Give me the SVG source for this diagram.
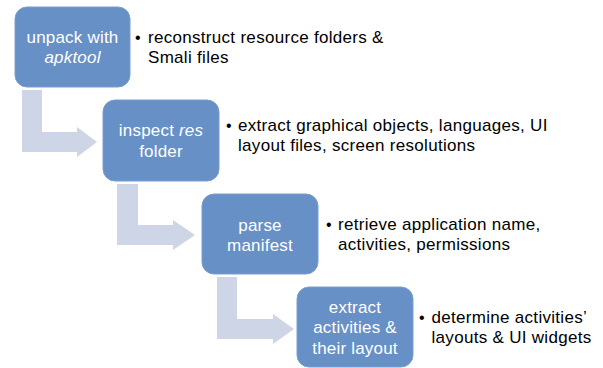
<svg xmlns="http://www.w3.org/2000/svg" width="603" height="368" viewBox="0 0 603 368">
<style>
.box{fill:#6690C6;stroke:#7A9ECF;stroke-width:1}
.arrow{fill:#CDD5E6}
.bt{font-family:"Liberation Sans",Arial,sans-serif;font-size:17px;letter-spacing:0.2px;fill:#FFFFFF;text-anchor:middle}
.rt{font-family:"Liberation Sans",Arial,sans-serif;font-size:17px;letter-spacing:0.3px;fill:#000000}
.bl{font-family:"Liberation Sans",sans-serif;font-size:16px;fill:#000000}
</style>
<rect width="603" height="368" fill="#FFFFFF"/>
<g id="connectors">
<path class="arrow" d="M22,90 H42 V132 H77 V127 L97,142 L77,157 V152 H22 Z"/>
<path class="arrow" d="M117,184 H138 V225 H173 V220 L195,235 L173,250 V245 H117 Z"/>
<path class="arrow" d="M217,277 H237 V319 H273 V314 L294,329 L273,344 V339 H217 Z"/>
</g>
<g id="node-unpack">
<rect class="box" x="15" y="7" width="115" height="80" rx="12"/>
<text class="bt" x="72.5" y="43">unpack with</text>
<text class="bt" x="72.5" y="63" font-style="italic">apktool</text>
</g>
<g id="desc-unpack">
<text class="bl" x="135" y="43">•</text>
<text class="rt" x="148" y="43">reconstruct resource folders &amp;</text>
<text class="rt" x="148" y="63">Smali files</text>
</g>
<g id="node-inspect">
<rect class="box" x="103" y="100" width="116" height="81" rx="12"/>
<text class="bt" x="161" y="136">inspect <tspan font-style="italic">res</tspan></text>
<text class="bt" x="161" y="156.5">folder</text>
</g>
<g id="desc-inspect">
<text class="bl" x="226" y="131">•</text>
<text class="rt" x="238" y="131">extract graphical objects, languages, UI</text>
<text class="rt" x="238" y="151">layout files, screen resolutions</text>
</g>
<g id="node-parse">
<rect class="box" x="202" y="194" width="116" height="80" rx="12"/>
<text class="bt" x="260" y="230.5">parse</text>
<text class="bt" x="260" y="250.5">manifest</text>
</g>
<g id="desc-parse">
<text class="bl" x="326" y="230">•</text>
<text class="rt" x="338" y="230">retrieve application name,</text>
<text class="rt" x="338" y="250">activities, permissions</text>
</g>
<g id="node-extract">
<rect class="box" x="297" y="287" width="116" height="80" rx="12"/>
<text class="bt" x="355" y="313">extract</text>
<text class="bt" x="355" y="333">activities &amp;</text>
<text class="bt" x="355" y="354">their layout</text>
</g>
<g id="desc-extract">
<text class="bl" x="419" y="323">•</text>
<text class="rt" x="431.5" y="323">determine activities’</text>
<text class="rt" x="431.5" y="343">layouts &amp; UI widgets</text>
</g>
</svg>
